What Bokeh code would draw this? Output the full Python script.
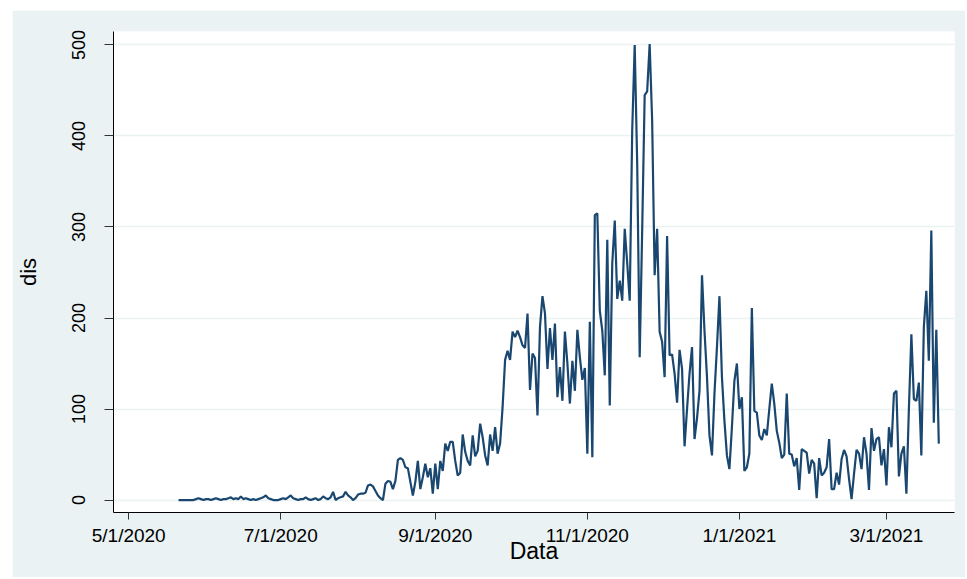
import pandas as pd
from bokeh.plotting import figure
from bokeh.models import FixedTicker, Range1d, ColumnDataSource
from bokeh.embed import file_html
from bokeh.resources import INLINE

# ---- data -------------------------------------------------------------
base_date = "2020-05-01"          # day 0 of the x scale
start_date = "2020-05-21"         # first observation (daily series)

dis = [
    0, 0, 0, 0, 0, 0, 0, 1, 2, 1,            # 5/21 - 5/30
    0, 1, 1, 0, 1, 2, 1, 0, 1, 1,
    2, 3, 1, 2, 1, 4, 1, 2, 1, 0,
    1, 0, 1, 2, 3, 5, 2, 1, 0, 0,
    0, 1, 2, 1, 3, 5, 2, 1, 0, 1,
    1, 3, 1, 0, 1, 2, 0, 1, 4, 2,
    1, 3, 9, 0, 2, 3, 4, 9, 5, 3,
    0, 2, 6, 7, 7, 8, 16, 17, 15, 10,
    5, 2, 0, 18, 21, 20, 12, 21, 44, 46,
    44, 36, 35, 20, 5, 20, 43, 12, 25, 40,
    25, 35, 7, 40, 12, 43, 32, 62, 54, 64,
    64, 43, 27, 30, 72, 53, 43, 38, 71, 48,
    54, 84, 69, 49, 38, 72, 54, 80, 51, 62,
    102, 154, 164, 154, 185, 179, 186, 179, 170, 167,
    205, 121, 161, 156, 93, 190, 224, 205, 144, 189,
    154, 194, 113, 146, 109, 185, 150, 106, 153, 120,
    187, 157, 132, 145, 51, 196, 47, 313, 315, 208,
    186, 137, 286, 104, 260, 307, 221, 241, 219, 298,
    260, 219, 406, 500, 370, 157, 296, 445, 449, 501,
    417, 247, 298, 185, 174, 135, 290, 159, 160, 139,
    107, 165, 144, 59, 100, 139, 168, 67, 90, 120,
    247, 186, 135, 71, 49, 117, 168, 224, 135, 87,
    49, 34, 80, 131, 150, 100, 113, 32, 36, 51,
    211, 98, 96, 71, 66, 78, 71, 100, 128, 106,
    76, 63, 46, 50, 117, 51, 50, 37, 46, 11,
    56, 54, 52, 29, 44, 40, 2, 46, 27, 30,
    36, 67, 12, 12, 30, 17, 45, 55, 48, 23,
    1, 29, 55, 51, 34, 69, 51, 11, 79, 54,
    67, 69, 38, 56, 16, 80, 58, 117, 120, 26,
    51, 59, 7, 100, 182, 111, 109, 129, 49, 190,
    230, 153, 296, 85, 187, 62,
]

tick_dates = ["2020-05-01", "2020-07-01", "2020-09-01",
              "2020-11-01", "2021-01-01", "2021-03-01"]
tick_labels = ["5/1/2020", "7/1/2020", "9/1/2020",
               "11/1/2020", "1/1/2021", "3/1/2021"]
y_ticks = [0, 100, 200, 300, 400, 500]

# ---- derived ----------------------------------------------------------
base = pd.Timestamp(base_date)
dates = pd.date_range(start_date, periods=len(dis), freq="D")
day = [(d - base).days for d in dates]
tick_days = [(pd.Timestamp(t) - base).days for t in tick_dates]

src = ColumnDataSource(dict(day=day, dis=dis))

BG = "#EAF2F3"
NAVY = "#1A476F"
FONT = "Liberation Sans"

p = figure(width=953, height=567, output_backend="svg", toolbar_location=None,
           x_range=Range1d(-6.1, 331.3), y_range=Range1d(-13.7, 514.8),
           min_border_left=97, min_border_right=11, min_border_top=21,
           min_border_bottom=65, margin=(10, 0, 0, 12))
p.background_fill_color = "white"
p.border_fill_color = BG
p.outline_line_color = None

p.line("day", "dis", source=src, line_color=NAVY, line_width=2.2)

# grid
p.xgrid.grid_line_color = None
p.ygrid.grid_line_color = BG
p.ygrid.grid_line_width = 1.5
p.ygrid.ticker = FixedTicker(ticks=y_ticks)

# x axis
xa = p.xaxis[0]
xa.ticker = FixedTicker(ticks=tick_days)
xa.major_label_overrides = {d: lab for d, lab in zip(tick_days, tick_labels)}
xa.axis_label = "Data"
xa.major_tick_out = 7
xa.major_tick_in = 0
xa.minor_tick_out = 0
xa.minor_tick_in = 0
xa.major_label_standoff = 5
xa.axis_label_standoff = -11
xa.major_label_text_font = FONT
xa.major_label_text_font_size = "19px"
xa.axis_label_text_font = FONT
xa.axis_label_text_font_size = "23px"
xa.axis_label_text_font_style = "normal"

# y axis
ya = p.yaxis[0]
ya.ticker = FixedTicker(ticks=y_ticks)
ya.axis_label = "dis"
ya.major_label_orientation = "vertical"
ya.major_tick_out = 9
ya.major_tick_in = 0
ya.minor_tick_out = 0
ya.minor_tick_in = 0
ya.major_label_standoff = 19
ya.axis_label_standoff = 29
ya.major_label_text_font = FONT
ya.major_label_text_font_size = "18px"
ya.axis_label_text_font = FONT
ya.axis_label_text_font_size = "22px"
ya.axis_label_text_font_style = "normal"

for ax in (xa, ya):
    ax.axis_line_color = "black"
    ax.major_tick_line_color = "#333333"
    ax.major_label_text_color = "black"
    ax.axis_label_text_color = "black"

open("out.html", "w").write(file_html(p, INLINE))
